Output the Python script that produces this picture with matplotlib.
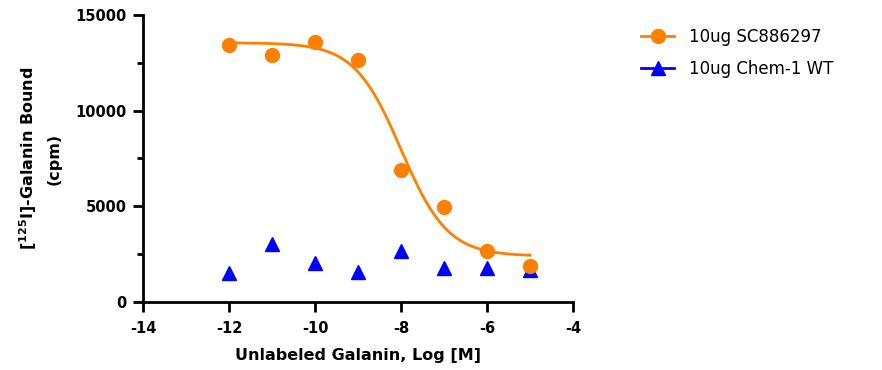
import numpy as np
import matplotlib
matplotlib.use('Agg')
import matplotlib.pyplot as plt
from matplotlib.lines import Line2D
from matplotlib.ticker import MultipleLocator

plt.rcParams['font.family'] = ['DejaVu Sans']
plt.rcParams['axes.unicode_minus'] = False
plt.rcParams['mathtext.default'] = 'bf'

# data
log_conc = [-12, -11, -10, -9, -8, -7, -6, -5]
sc886297 = [13430, 12930, 13570, 12670, 6880, 4970, 2680, 1860]
chem1_wt = [1530, 3030, 2020, 1550, 2650, 1760, 1760, 1670]

# fitted one-site competition curve (parameters)
fit_top = 13550
fit_bottom = 2400
fit_logic50 = -8.0
fit_hill = 0.8

orange = '#FF8000'
blue = '#0000FF'

fig = plt.figure(figsize=(8.82, 3.70), dpi=100)
ax = fig.add_axes([143 / 882, 1 - 302 / 370, 430 / 882, 287 / 370])

xs = np.linspace(-12, -5, 300)
ys = fit_bottom + (fit_top - fit_bottom) / (1 + 10 ** ((xs - fit_logic50) * fit_hill))
ax.plot(xs, ys, color=orange, lw=2, zorder=2)
ax.plot(log_conc, sc886297, 'o', color=orange, ms=10, zorder=4, clip_on=False)
ax.plot(log_conc, chem1_wt, '^', color=blue, ms=9.5, zorder=3, clip_on=False)

ax.set_xlim(-14, -4)
ax.set_ylim(0, 15000)
ax.xaxis.set_major_locator(MultipleLocator(2))
ax.yaxis.set_major_locator(MultipleLocator(5000))
ax.yaxis.set_minor_locator(MultipleLocator(2500))

for s in ['top', 'right']:
    ax.spines[s].set_visible(False)
for s in ['left', 'bottom']:
    ax.spines[s].set_linewidth(2)

ax.tick_params(which='major', length=7, width=2, direction='out', labelsize=10.5, pad=5)
ax.tick_params(axis='x', which='major', pad=7)
ax.tick_params(which='minor', length=4, width=2, direction='out')
for lab in ax.get_xticklabels() + ax.get_yticklabels():
    lab.set_fontweight('bold')

ax.set_xlabel('Unlabeled Galanin, Log [M]', fontsize=11.5, fontweight='bold', labelpad=8)
ax.set_ylabel('[$^{125}$I]-Galanin Bound\n(cpm)', fontsize=11.5,
              fontweight='bold', labelpad=10, linespacing=1.6)

handles = [
    Line2D([], [], color=orange, lw=2, marker='o', ms=10),
    Line2D([], [], color=blue, lw=2, marker='^', ms=9.5),
]
fig.legend(handles, ['10ug SC886297', '10ug Chem-1 WT'], loc='upper left',
           bbox_to_anchor=(626 / 882, 1 - 13 / 370), frameon=False,
           fontsize=12, handlelength=2.0, labelspacing=0.85, handletextpad=0.9)

fig.savefig('out.png', dpi=100)
